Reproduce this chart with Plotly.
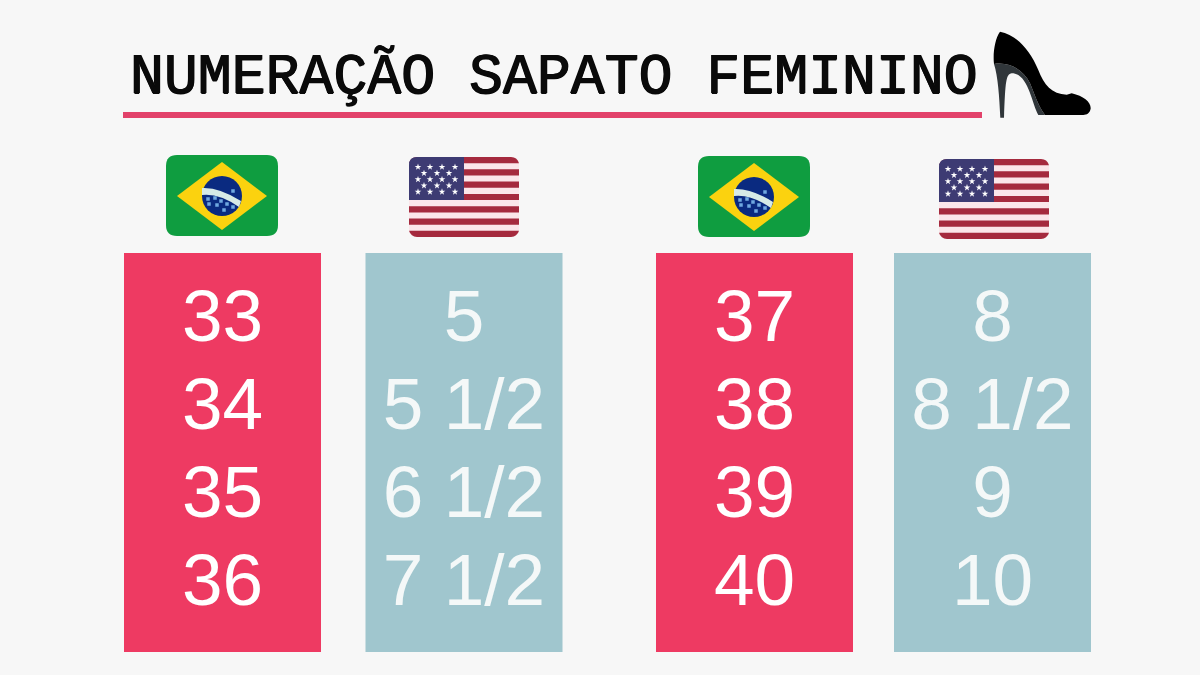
import plotly.graph_objects as go

title = "NUMERAÇÃO SAPATO FEMININO"
br_left = ["33", "34", "35", "36"]
us_left = ["5", "5 1/2", "6 1/2", "7 1/2"]
br_right = ["37", "38", "39", "40"]
us_right = ["8", "8 1/2", "9", "10"]

columns = [br_left, us_left, br_right, us_right]
column_colors = ["#EE3A62", "#A0C6CE", "#EE3A62", "#A0C6CE"]
text_colors = ["#FFFFFF", "#F4F8F8", "#FFFFFF", "#F4F8F8"]
column_centers = [222.5, 464, 754.5, 992.5]
row_centers = [323, 411, 499, 587]
COL_W, COL_TOP, COL_H = 197, 253, 399

fig = go.Figure()
fig.add_trace(go.Bar(x=column_centers, y=[COL_H] * 4, base=[COL_TOP] * 4, width=[COL_W] * 4,
                     marker=dict(color=column_colors, line_width=0), hoverinfo="skip"))
for col, cx, tc in zip(columns, column_centers, text_colors):
    fig.add_trace(go.Scatter(x=[cx] * len(col), y=row_centers, text=col, mode="text",
                             textposition="middle center", hoverinfo="skip",
                             textfont=dict(family="Liberation Sans", size=73, color=tc)))

shapes = []


def rrect(x0, y0, x1, y1, r, color):
    p = (f"M{x0+r},{y0} L{x1-r},{y0} Q{x1},{y0} {x1},{y0+r} L{x1},{y1-r} Q{x1},{y1} {x1-r},{y1} "
         f"L{x0+r},{y1} Q{x0},{y1} {x0},{y1-r} L{x0},{y0+r} Q{x0},{y0} {x0+r},{y0} Z")
    shapes.append(dict(type="path", path=p, fillcolor=color, line_width=0, layer="between"))


def rect(x0, y0, x1, y1, color):
    shapes.append(dict(type="rect", x0=x0, y0=y0, x1=x1, y1=y1, fillcolor=color, line_width=0, layer="between"))


def path(p, color):
    shapes.append(dict(type="path", path=p, fillcolor=color, line_width=0, layer="between"))


star_x, star_y, dot_x, dot_y = [], [], [], []


def brazil(x0, y0):
    rrect(x0, y0, x0 + 112, y0 + 81, 11, "#0F9D40")
    cx, cy = x0 + 56, y0 + 41
    path(f"M{cx-45},{cy} L{cx},{cy-34} L{cx+45},{cy} L{cx},{cy+34} Z", "#FBD20F")
    shapes.append(dict(type="circle", x0=cx - 20, y0=cy - 20, x1=cx + 20, y1=cy + 20,
                       fillcolor="#0A2A80", line_width=0, layer="between"))
    path(f"M{cx-20},{cy-8} Q{cx-3},{cy-9} {cx+19},{cy+5} L{cx+17},{cy+11} "
         f"Q{cx-3},{cy-3} {cx-20},{cy-1} Z", "#D6EAE6")
    for dx, dy in [(-14, 3), (-7, 2), (-1, 5), (5, 8), (11, 11), (-13, 8), (2, 14), (11, -5), (-5, 9)]:
        dot_x.append(cx + dx)
        dot_y.append(cy + dy)


def usa(x0, y0):
    w, h = 110, 80
    s = h / 13
    rrect(x0, y0, x0 + w, y0 + h, 8, "#FBE6EA")
    r = 8
    path(f"M{x0+r},{y0} L{x0+w-r},{y0} Q{x0+w-2},{y0} {x0+w},{y0+s} L{x0},{y0+s} Q{x0+2},{y0} {x0+r},{y0} Z", "#A52A3E")
    path(f"M{x0},{y0+12*s} L{x0+w},{y0+12*s} Q{x0+w-2},{y0+h} {x0+w-r},{y0+h} L{x0+r},{y0+h} Q{x0+2},{y0+h} {x0},{y0+12*s} Z", "#A52A3E")
    for i in range(2, 12, 2):
        rect(x0, y0 + i * s, x0 + w, y0 + (i + 1) * s, "#A52A3E")
    path(f"M{x0+r},{y0} L{x0+55},{y0} L{x0+55},{y0+43} L{x0},{y0+43} L{x0},{y0+r} Q{x0},{y0} {x0+r},{y0} Z", "#3D3B73")
    for j in range(5):
        offs = [9, 21, 33, 46] if j % 2 == 0 else [15, 28, 40]
        for o in offs:
            star_x.append(x0 + o)
            star_y.append(y0 + 10 + j * 6.2)


brazil(166, 155)
brazil(698, 156)
usa(409, 157)
usa(939, 159)

rect(123, 112, 982, 118, "#E2426A")


def z(px, py):
    return f"{920+px/3:.1f},{20+py/3:.1f}"


path(f"M{z(222,132)} C{z(270,125)} {z(310,150)} {z(330,190)} C{z(345,225)} {z(350,250)} {z(375,285)} "
     f"L{z(355,285)} C{z(335,250)} {z(325,160)} {z(275,160)} C{z(258,162)} {z(256,185)} {z(252,293)} "
     f"L{z(241,293)} C{z(238,230)} {z(234,170)} {z(222,132)} Z", "#30363A")
path(f"M{z(240,35)} C{z(290,45)} {z(330,90)} {z(355,150)} C{z(372,195)} {z(395,222)} {z(440,224)} "
     f"L{z(455,220)} C{z(490,228)} {z(512,245)} {z(512,265)} C{z(510,280)} {z(500,285)} {z(490,285)} "
     f"L{z(375,285)} C{z(350,250)} {z(345,225)} {z(330,190)} C{z(310,150)} {z(270,125)} {z(222,132)} "
     f"C{z(218,100)} {z(225,55)} {z(240,35)} Z", "#000000")

fig.add_trace(go.Scatter(x=dot_x, y=dot_y, mode="markers", hoverinfo="skip",
                         marker=dict(symbol="square", size=3.5, color="#6FA8E0")))
fig.add_trace(go.Scatter(x=star_x, y=star_y, mode="markers", hoverinfo="skip",
                         marker=dict(symbol="star", size=5, color="#FFFFFF", line_width=0)))

fig.add_annotation(x=554, y=77, text=title, showarrow=False, xanchor="center", yanchor="middle",
                   font=dict(family="Liberation Mono", size=56.5, color="#0A0A0A",
                             shadow="0.7px 0 0 #0A0A0A, -0.7px 0 0 #0A0A0A, 0 0.5px 0 #0A0A0A"))

fig.update_layout(
    width=1200, height=675, autosize=False, margin=dict(l=0, r=0, t=0, b=0),
    paper_bgcolor="#F7F7F7", plot_bgcolor="#F7F7F7", showlegend=False, shapes=shapes,
    xaxis=dict(range=[0, 1200], visible=False, fixedrange=True),
    yaxis=dict(range=[675, 0], visible=False, fixedrange=True),
)
fig.write_html("out.html", config=dict(displayModeBar=False),
               post_script="document.body.style.margin='0';document.body.style.background='#F7F7F7';")
